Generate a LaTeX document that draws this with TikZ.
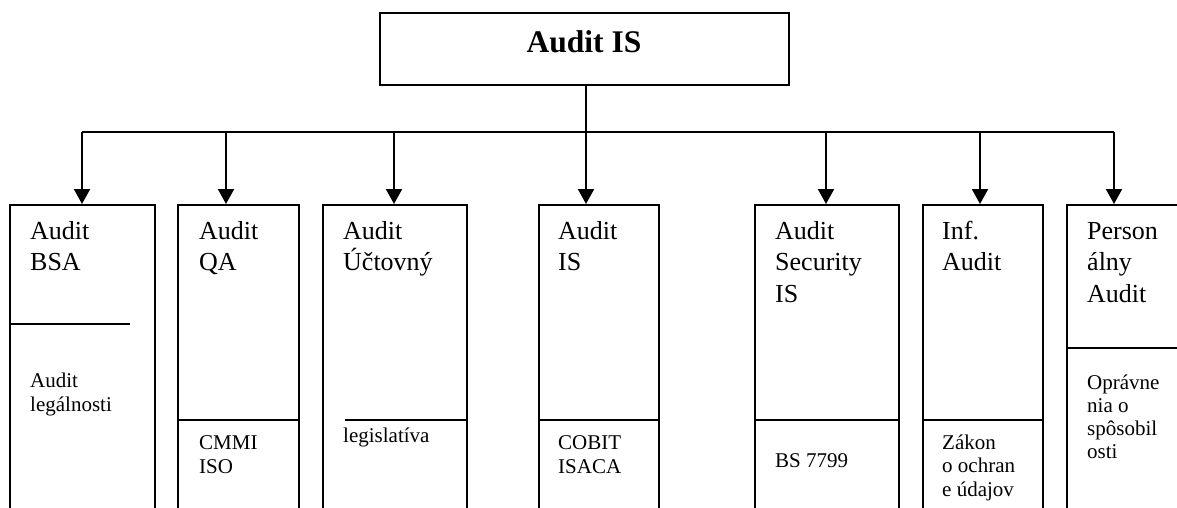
\documentclass[tikz,border=0pt]{standalone}
\usepackage{fontspec}
\setmainfont{Liberation Serif}
\usetikzlibrary{arrows.meta}
\tikzset{
  boxnode/.style={draw=black, line width=2pt, rectangle, inner sep=0pt, anchor=north west},
  divider/.style={draw=black, line width=2pt},
  conn/.style={draw=black, line width=2pt},
  arr/.style={conn, -{Triangle[width=16pt,length=15pt]}},
  headtext/.style={anchor=base west, align=left, inner sep=0pt, font=\fontsize{26}{31.5}\selectfont},
  subtext/.style={anchor=base west, align=left, inner sep=0pt, font=\fontsize{21}{24.5}\selectfont},
}
\begin{document}
\begin{tikzpicture}[x=1pt,y=-1pt]
\clip (0,0) rectangle (1177,508);
\fill[white] (0,0) rectangle (1177,508);
% top box
\node[boxnode, minimum width=409pt, minimum height=72pt] (top) at (379,12) {};
\node[anchor=base, inner sep=0pt, font=\fontsize{31.5}{36}\selectfont\bfseries] (toptext) at (584,53) {Audit IS};
% boxes
\node[boxnode, minimum width=145pt, minimum height=330pt] (b1) at (9,204) {};
\node[boxnode, minimum width=121pt, minimum height=330pt] (b2) at (177,204) {};
\node[boxnode, minimum width=144pt, minimum height=330pt] (b3) at (322,204) {};
\node[boxnode, minimum width=120pt, minimum height=330pt] (b4) at (538,204) {};
\node[boxnode, minimum width=144pt, minimum height=330pt] (b5) at (754,204) {};
\node[boxnode, minimum width=120pt, minimum height=330pt] (b6) at (922,204) {};
\node[boxnode, minimum width=140pt, minimum height=330pt] (b7) at (1066,204) {};
% dividers
\coordinate (d1a) at (9,324);   \coordinate (d1b) at (130,324);
\coordinate (d3a) at (345,420);
\draw[divider] (d1a) -- (d1b);
\draw[divider] (b2.west |- 0,420) -- (b2.east |- 0,420);
\draw[divider] (d3a) -- (b3.east |- d3a);
\draw[divider] (b4.west |- 0,420) -- (b4.east |- 0,420);
\draw[divider] (b5.west |- 0,420) -- (b5.east |- 0,420);
\draw[divider] (b6.west |- 0,420) -- (b6.east |- 0,420);
\draw[divider] (b7.west |- 0,348) -- (b7.east |- 0,348);
% connectors
\coordinate (bus1) at (82,132);
\coordinate (bus2) at (226,132);
\coordinate (bus3) at (394,132);
\coordinate (bus4) at (586,132);
\coordinate (bus5) at (826,132);
\coordinate (bus6) at (980,132);
\coordinate (bus7) at (1114,132);
\draw[conn] (top.south -| bus4) -- (bus4);
\draw[conn] (bus1) -- (bus7);
\draw[arr] (bus1) -- (bus1 |- b1.north);
\draw[arr] (bus2) -- (bus2 |- b2.north);
\draw[arr] (bus3) -- (bus3 |- b3.north);
\draw[arr] (bus4) -- (bus4 |- b4.north);
\draw[arr] (bus5) -- (bus5 |- b5.north);
\draw[arr] (bus6) -- (bus6 |- b6.north);
\draw[arr] (bus7) -- (bus7 |- b7.north);
% header texts (anchor = baseline of last line)
\node[headtext] (h1) at (30,270.5) {Audit\\BSA};
\node[headtext] (h2) at (199,270.5) {Audit\\QA};
\node[headtext] (h3) at (343,270.5) {Audit\\Účtovný};
\node[headtext] (h4) at (558,270.5) {Audit\\IS};
\node[headtext] (h5) at (775,302) {Audit\\Security\\IS};
\node[headtext] (h6) at (942,270.5) {Inf.\\Audit};
\node[headtext] (h7) at (1087,302) {Person\\álny\\Audit};
% sub texts
\node[subtext] (s1) at (30,411.5) {Audit\\legálnosti};
\node[subtext] (s2) at (199,473.5) {CMMI\\ISO};
\node[subtext] (s3) at (343,442) {legislatíva};
\node[subtext] (s4) at (558,473.5) {COBIT\\ISACA};
\node[subtext] (s5) at (775,467) {BS 7799};
\node[subtext, font=\fontsize{21}{23.5}\selectfont] (s6) at (942,496) {Zákon\\o ochran\\e údajov};
\node[subtext, font=\fontsize{21}{23}\selectfont] (s7) at (1087,458) {Oprávne\\nia o\\spôsobil\\osti};
\end{tikzpicture}
\end{document}
